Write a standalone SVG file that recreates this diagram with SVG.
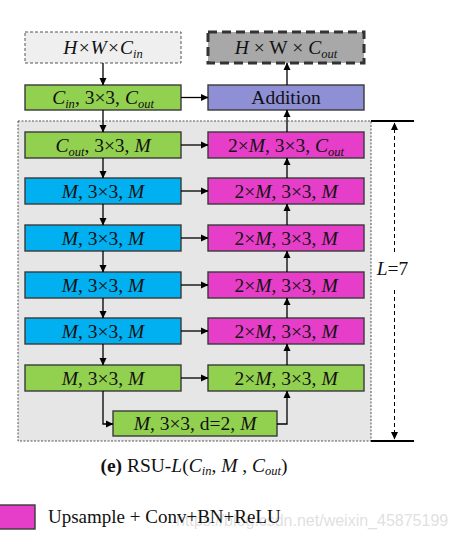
<svg xmlns="http://www.w3.org/2000/svg" width="460" height="538" viewBox="0 0 460 538">
<defs>
<marker id="ah" markerWidth="8" markerHeight="8" refX="7" refY="4" orient="auto" markerUnits="userSpaceOnUse">
<path d="M0,0.5 L7.5,4 L0,7.5 Z" fill="#000"/>
</marker>
</defs>
<style>
.box{stroke:#3a3a3a;stroke-width:1.4}
.g{fill:#92d050}.b{fill:#00b0f0}.m{fill:#e63ec8}
.t{font-family:"Liberation Serif","Times New Roman",serif;font-size:19.5px;fill:#111;text-anchor:middle}
.i{font-style:italic}
.s{font-size:12.5px}
.ln{stroke:#000;stroke-width:1.3;fill:none}
</style>
<rect x="0" y="0" width="460" height="538" fill="#fff"/>
<g id="container">
<rect x="18" y="121" width="353" height="320" fill="#e6e6e6" stroke="#555" stroke-width="1" stroke-dasharray="2,1.5"/>
</g>
<g id="input">
<rect x="25" y="32" width="156" height="31" fill="#efefef" stroke="#555" stroke-width="1" stroke-dasharray="3,2"/>
<text class="t i" x="103" y="54">H×W×C<tspan class="s" dy="4">in</tspan></text>
</g>
<g id="output">
<rect x="208" y="32" width="156" height="31" fill="#a8a8a8" stroke="#333" stroke-width="3" stroke-dasharray="9,5"/>
<text class="t" x="286" y="54" font-size="20.5"><tspan class="i">H</tspan> × W × <tspan class="i">C</tspan><tspan class="s i" dy="4">out</tspan></text>
</g>
<g id="conv_in">
<rect class="box g" x="25" y="85" width="156" height="25"/>
<text class="t i" x="103" y="104">C<tspan class="s" dy="4">in</tspan><tspan dy="-4" font-style="normal">, 3×3, </tspan>C<tspan class="s" dy="4">out</tspan></text>
</g>
<g id="addition">
<rect class="box" x="208" y="85" width="156" height="25" fill="#8f8fd6"/>
<text class="t" x="286" y="104">Addition</text>
</g>
<g id="enc1">
<rect class="box g" x="25" y="132" width="156" height="26"/>
<text class="t" x="103" y="151.5"><tspan class="i">C</tspan><tspan class="s i" dy="4">out</tspan><tspan dy="-4">, 3×3, </tspan><tspan class="i">M</tspan></text>
</g>
<g id="enc2">
<rect class="box b" x="25" y="178" width="156" height="26"/>
<text class="t" x="103" y="197.5"><tspan class="i">M</tspan>, 3×3, <tspan class="i">M</tspan></text>
</g>
<g id="enc3">
<rect class="box b" x="25" y="225" width="156" height="26"/>
<text class="t" x="103" y="244.5"><tspan class="i">M</tspan>, 3×3, <tspan class="i">M</tspan></text>
</g>
<g id="enc4">
<rect class="box b" x="25" y="272" width="156" height="26"/>
<text class="t" x="103" y="291.5"><tspan class="i">M</tspan>, 3×3, <tspan class="i">M</tspan></text>
</g>
<g id="enc5">
<rect class="box b" x="25" y="318" width="156" height="26"/>
<text class="t" x="103" y="337.5"><tspan class="i">M</tspan>, 3×3, <tspan class="i">M</tspan></text>
</g>
<g id="enc6">
<rect class="box g" x="25" y="365" width="156" height="26"/>
<text class="t" x="103" y="384.5"><tspan class="i">M</tspan>, 3×3, <tspan class="i">M</tspan></text>
</g>
<g id="bottom">
<rect class="box g" x="113" y="411" width="164" height="25"/>
<text class="t" x="195" y="430"><tspan class="i">M</tspan>, 3×3, d=2, <tspan class="i">M</tspan></text>
</g>
<g id="dec1">
<rect class="box m" x="208" y="132" width="156" height="26"/>
<text class="t" x="286" y="151.5">2×<tspan class="i">M</tspan>, 3×3, <tspan class="i">C</tspan><tspan class="s i" dy="4">out</tspan></text>
</g>
<g id="dec2">
<rect class="box m" x="208" y="178" width="156" height="26"/>
<text class="t" x="286" y="197.5">2×<tspan class="i">M</tspan>, 3×3, <tspan class="i">M</tspan></text>
</g>
<g id="dec3">
<rect class="box m" x="208" y="225" width="156" height="26"/>
<text class="t" x="286" y="244.5">2×<tspan class="i">M</tspan>, 3×3, <tspan class="i">M</tspan></text>
</g>
<g id="dec4">
<rect class="box m" x="208" y="272" width="156" height="26"/>
<text class="t" x="286" y="291.5">2×<tspan class="i">M</tspan>, 3×3, <tspan class="i">M</tspan></text>
</g>
<g id="dec5">
<rect class="box m" x="208" y="318" width="156" height="26"/>
<text class="t" x="286" y="337.5">2×<tspan class="i">M</tspan>, 3×3, <tspan class="i">M</tspan></text>
</g>
<g id="dec6">
<rect class="box g" x="208" y="365" width="156" height="26"/>
<text class="t" x="286" y="384.5">2×<tspan class="i">M</tspan>, 3×3, <tspan class="i">M</tspan></text>
</g>
<g id="connectors">
<line class="ln" x1="103" y1="63" x2="103" y2="85" marker-end="url(#ah)"/>
<line class="ln" x1="181" y1="97.5" x2="208" y2="97.5" marker-end="url(#ah)"/>
<line class="ln" x1="287" y1="85" x2="287" y2="63" marker-end="url(#ah)"/>
<line class="ln" x1="103" y1="110" x2="103" y2="132" marker-end="url(#ah)"/>
<line class="ln" x1="103" y1="158" x2="103" y2="178" marker-end="url(#ah)"/>
<line class="ln" x1="103" y1="204" x2="103" y2="225" marker-end="url(#ah)"/>
<line class="ln" x1="103" y1="251" x2="103" y2="272" marker-end="url(#ah)"/>
<line class="ln" x1="103" y1="298" x2="103" y2="318" marker-end="url(#ah)"/>
<line class="ln" x1="103" y1="344" x2="103" y2="365" marker-end="url(#ah)"/>
<polyline class="ln" points="103,391 103,424 113,424" marker-end="url(#ah)"/>
<polyline class="ln" points="277,424 287,424 287,391" marker-end="url(#ah)"/>
<line class="ln" x1="181" y1="145" x2="208" y2="145" marker-end="url(#ah)"/>
<line class="ln" x1="181" y1="191" x2="208" y2="191" marker-end="url(#ah)"/>
<line class="ln" x1="181" y1="238" x2="208" y2="238" marker-end="url(#ah)"/>
<line class="ln" x1="181" y1="285" x2="208" y2="285" marker-end="url(#ah)"/>
<line class="ln" x1="181" y1="331" x2="208" y2="331" marker-end="url(#ah)"/>
<line class="ln" x1="181" y1="378" x2="208" y2="378" marker-end="url(#ah)"/>
<line class="ln" x1="287" y1="365" x2="287" y2="344" marker-end="url(#ah)"/>
<line class="ln" x1="287" y1="318" x2="287" y2="298" marker-end="url(#ah)"/>
<line class="ln" x1="287" y1="272" x2="287" y2="251" marker-end="url(#ah)"/>
<line class="ln" x1="287" y1="225" x2="287" y2="204" marker-end="url(#ah)"/>
<line class="ln" x1="287" y1="178" x2="287" y2="158" marker-end="url(#ah)"/>
<line class="ln" x1="287" y1="132" x2="287" y2="110" marker-end="url(#ah)"/>
</g>
<g id="dimension">
<line x1="371" y1="121" x2="414" y2="121" stroke="#000" stroke-width="2"/>
<line x1="371" y1="441" x2="414" y2="441" stroke="#000" stroke-width="2"/>
<line x1="394.5" y1="252" x2="394.5" y2="123" stroke="#000" stroke-width="1" stroke-dasharray="4,3" marker-end="url(#ah)"/>
<line x1="394.5" y1="290" x2="394.5" y2="439" stroke="#000" stroke-width="1" stroke-dasharray="4,3" marker-end="url(#ah)"/>
<text class="t" x="392.5" y="275" font-size="20.5"><tspan class="i">L</tspan>=7</text>
</g>
<g id="caption">
<text class="t" x="194" y="472" font-size="18.5"><tspan font-weight="bold">(e)</tspan> RSU-<tspan class="i">L</tspan>(<tspan class="i">C</tspan><tspan class="s i" dy="3">in</tspan><tspan dy="-3">, </tspan><tspan class="i">M</tspan> , <tspan class="i">C</tspan><tspan class="s i" dy="3">out</tspan><tspan dy="-3">)</tspan></text>
</g>
<g id="legend">
<rect x="-2" y="505" width="37" height="24" fill="#e63ec8" stroke="#3a3a3a" stroke-width="1.4"/>
<text x="176" y="526" font-family="'Liberation Sans',Arial,sans-serif" font-size="16" fill="#d8d8d8" fill-opacity="0.8">https://blog.csdn.net/weixin_45875199</text>
<text x="48" y="523" font-family="'Liberation Serif','Times New Roman',serif" font-size="19" fill="#111">Upsample + Conv+BN+ReLU</text>
</g>
</svg>
